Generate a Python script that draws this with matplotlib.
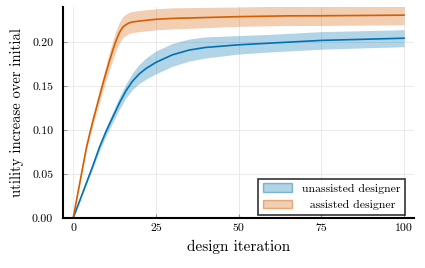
import numpy as np
import matplotlib
matplotlib.use("Agg")
import matplotlib.pyplot as plt
from matplotlib.colors import to_rgba

plt.rcParams['font.family'] = 'cmr10'
plt.rcParams['mathtext.fontset'] = 'cm'
plt.rcParams['axes.formatter.use_mathtext'] = True

# datos
it_unassisted = [0, 2, 4, 6, 8, 10, 12, 14, 16, 18, 20, 22, 25, 30, 35, 40, 50, 60, 65, 75, 85, 100]
mean_unassisted = [0.0, 0.02, 0.04, 0.06, 0.081, 0.099, 0.115, 0.131, 0.145, 0.156, 0.164, 0.170,
                   0.177, 0.1856, 0.191, 0.194, 0.197, 0.199, 0.200, 0.202, 0.203, 0.2045]
std_unassisted = [0.0, 0.001, 0.002, 0.003, 0.004, 0.005, 0.006, 0.007, 0.008, 0.0095, 0.011, 0.012,
                  0.013, 0.013, 0.0125, 0.012, 0.0105, 0.010, 0.010, 0.010, 0.0098, 0.0097]

it_assisted = [0, 1, 2, 3, 4, 5, 6, 7, 8, 9, 10, 11, 12, 13, 14, 15, 16, 17, 18, 20, 25, 30, 40, 50, 65, 75, 100]
mean_assisted = [0.0, 0.02, 0.04, 0.06, 0.08, 0.096, 0.111, 0.125, 0.139, 0.153, 0.166, 0.179, 0.191,
                 0.202, 0.211, 0.217, 0.220, 0.222, 0.223, 0.224, 0.226, 0.227, 0.228, 0.229, 0.2299,
                 0.230, 0.2307]
std_assisted = [0.0, 0.0006, 0.0012, 0.002, 0.003, 0.004, 0.005, 0.006, 0.007, 0.008, 0.009, 0.010,
                0.011, 0.0115, 0.012, 0.012, 0.012, 0.012, 0.012, 0.012, 0.012, 0.012, 0.0115, 0.011,
                0.011, 0.011, 0.011]

blue = '#0072B2'
orange = '#D55E00'

fig = plt.figure(figsize=(4.25, 2.68), dpi=100)
ax = fig.add_axes([0.148, 0.186, 0.826, 0.788])

x1 = np.array(it_unassisted)
m1 = np.array(mean_unassisted)
s1 = np.array(std_unassisted)
x2 = np.array(it_assisted)
m2 = np.array(mean_assisted)
s2 = np.array(std_assisted)

ax.fill_between(x1, m1 - s1, m1 + s1, color=blue, alpha=0.3, lw=0, label='unassisted designer')
ax.plot(x1, m1, color=blue, lw=1.2)
ax.fill_between(x2, m2 - s2, m2 + s2, color=orange, alpha=0.3, lw=0, label='  assisted designer')
ax.plot(x2, m2, color=orange, lw=1.2)

ax.set_xlim(-3.1, 103)
ax.set_ylim(0, 0.24)
ax.set_xticks([0, 25, 50, 75, 100])
ax.set_yticks([0.0, 0.05, 0.10, 0.15, 0.20])
ax.set_yticklabels(['0.00', '0.05', '0.10', '0.15', '0.20'])
ax.set_xticklabels(['0', '25', '50', '75', '100'])
ax.grid(True, color='#e6e6e6', lw=0.6)
ax.set_axisbelow(True)
for s in ['top', 'right']:
    ax.spines[s].set_visible(False)
for s in ['left', 'bottom']:
    ax.spines[s].set_linewidth(1.5)
ax.tick_params(direction='in', length=3, color='#999999', labelsize=8.5)
ax.tick_params(axis='y', pad=7)
ax.tick_params(axis='x', pad=4)
ax.set_xlabel('design iteration', fontsize=11, labelpad=5)
ax.set_ylabel('utility increase over initial', fontsize=10.5, labelpad=6)

leg = ax.legend(loc='lower right', fontsize=8.5, frameon=True, fancybox=False,
                edgecolor='black', borderaxespad=0.3, handlelength=2.5,
                bbox_to_anchor=(0.985, 0.0))
leg.get_frame().set_linewidth(1.2)
for h, c in zip(leg.legend_handles, [blue, orange]):
    h.set_alpha(None)
    h.set_facecolor(to_rgba(c, 0.3))
    h.set_edgecolor(to_rgba(c, 0.45))
    h.set_linewidth(1.0)

fig.savefig('out.png', dpi=100)
